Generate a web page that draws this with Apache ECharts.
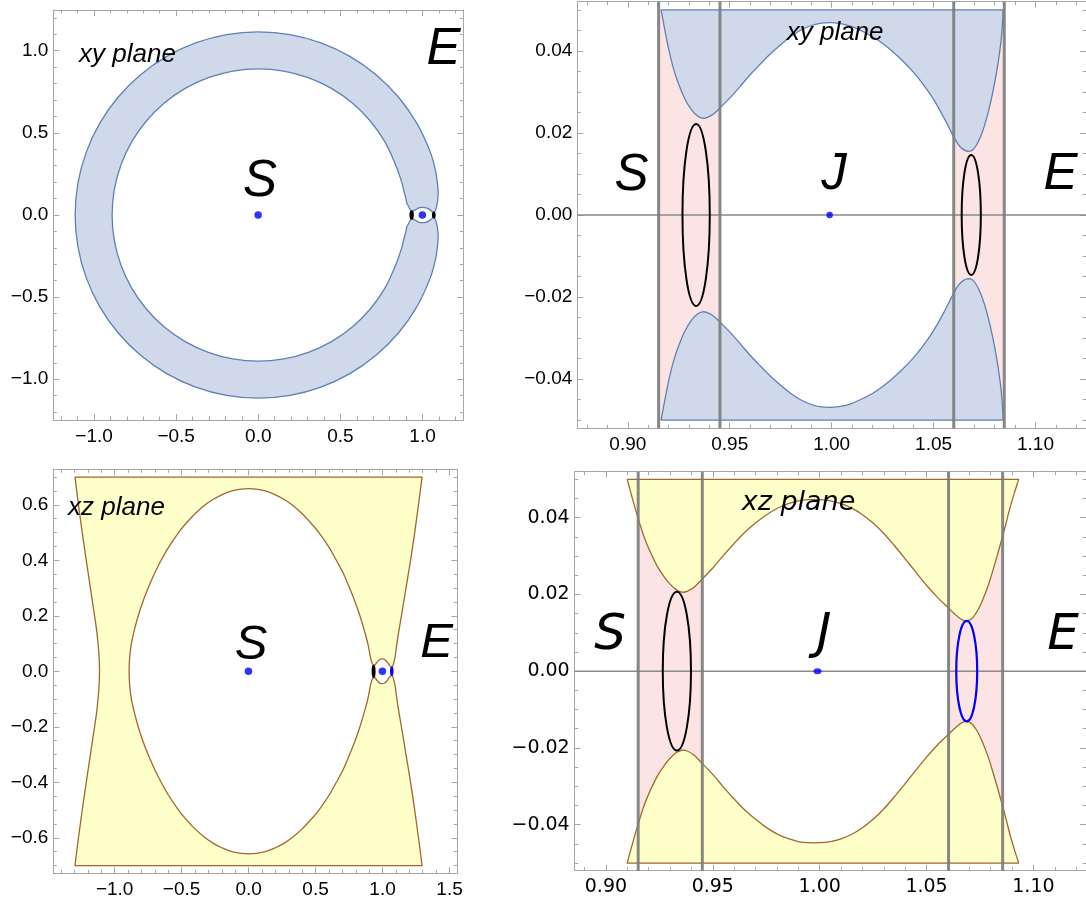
<!DOCTYPE html>
<html><head><meta charset="utf-8">
<script src="https://cdn.jsdelivr.net/npm/echarts@6/dist/echarts.min.js"></script>
<style>html,body{margin:0;padding:0;background:#fff;overflow:hidden}#c{width:1086px;height:905px}</style>
</head><body><div id="c"></div>
<script>
// ---------------- DATA ----------------
// Top-left, xy plane: forbidden band (outer curve, eye, inner curve)
const tlOuter = [[1.067,0.0155],[1.0707,0.0167],[1.0748,0.0216],[1.0789,0.0297],[1.0821,0.0403],[1.0841,0.05],[1.088,0.065],[1.092,0.09],[1.095,0.13],[1.093,0.17],[1.087,0.22],[1.079,0.27],[1.0478,0.3813],[0.9656,0.5575],[0.8541,0.7167],[0.7167,0.8541],[0.5575,0.9656],[0.3813,1.0478],[0.1936,1.0981],[0,1.115],[-0.1936,1.0981],[-0.3813,1.0478],[-0.5575,0.9656],[-0.7167,0.8541],[-0.8541,0.7167],[-0.9656,0.5575],[-1.0478,0.3813],[-1.0981,0.1936],[-1.115,0],[-1.0981,-0.1936],[-1.0478,-0.3813],[-0.9656,-0.5575],[-0.8541,-0.7167],[-0.7167,-0.8541],[-0.5575,-0.9656],[-0.3813,-1.0478],[-0.1936,-1.0981],[0,-1.115],[0.1936,-1.0981],[0.3813,-1.0478],[0.5575,-0.9656],[0.7167,-0.8541],[0.8541,-0.7167],[0.9656,-0.5575],[1.0478,-0.3813],[1.079,-0.27],[1.087,-0.22],[1.093,-0.17],[1.095,-0.13],[1.092,-0.09],[1.088,-0.065],[1.0841,-0.05],[1.0821,-0.0403],[1.0789,-0.0297],[1.0748,-0.0216],[1.0707,-0.0167],[1.067,-0.0155]];
const tlEyeBottom = [[1.067,-0.0155],[1.0599,-0.0193],[1.0472,-0.0297],[1.0358,-0.0371],[1.0228,-0.0428],[0.9992,-0.0469],[0.9805,-0.0444],[0.9675,-0.0379],[0.9561,-0.0318],[0.9452,-0.0262],[0.9366,-0.0236]];
const tlInner = [[0.9366,-0.0236],[0.9301,-0.0265],[0.9252,-0.0322],[0.9203,-0.0403],[0.9163,-0.05],[0.905,-0.07],[0.8985,-0.1],[0.8853,-0.15],[0.873,-0.2],[0.8363,-0.3044],[0.7707,-0.445],[0.6817,-0.5721],[0.5721,-0.6817],[0.445,-0.7707],[0.3044,-0.8363],[0.1545,-0.8765],[0,-0.89],[-0.1545,-0.8765],[-0.3044,-0.8363],[-0.445,-0.7707],[-0.5721,-0.6817],[-0.6817,-0.5721],[-0.7707,-0.445],[-0.8363,-0.3044],[-0.8765,-0.1545],[-0.89,0],[-0.8765,0.1545],[-0.8363,0.3044],[-0.7707,0.445],[-0.6817,0.5721],[-0.5721,0.6817],[-0.445,0.7707],[-0.3044,0.8363],[-0.1545,0.8765],[0,0.89],[0.1545,0.8765],[0.3044,0.8363],[0.445,0.7707],[0.5721,0.6817],[0.6817,0.5721],[0.7707,0.445],[0.8363,0.3044],[0.873,0.2],[0.8853,0.15],[0.8985,0.1],[0.905,0.07],[0.9163,0.05],[0.9203,0.0403],[0.9252,0.0322],[0.9301,0.0265],[0.9366,0.0236]];
const tlEyeTop = [[0.9366,0.0236],[0.9452,0.0262],[0.9561,0.0318],[0.9675,0.0379],[0.9805,0.0444],[0.9992,0.0469],[1.0228,0.0428],[1.0358,0.0371],[1.0472,0.0297],[1.0599,0.0193],[1.067,0.0155]];

// Top-right, xy plane zoom: upper and lower forbidden regions
const trUpper = [[0.9163,0.05],[0.918,0.0455],[0.92,0.0405],[0.9225,0.0355],[0.925,0.0318],[0.928,0.0283],[0.931,0.0258],[0.934,0.0242],[0.9366,0.0236],[0.939,0.0238],[0.942,0.0246],[0.945,0.026],[0.95,0.0285],[0.955,0.0313],[0.96,0.0342],[0.965,0.0368],[0.97,0.0393],[0.975,0.0415],[0.98,0.0435],[0.985,0.0451],[0.99,0.0462],[0.995,0.0468],[1.0,0.0469],[1.005,0.0466],[1.01,0.0459],[1.015,0.0448],[1.02,0.0435],[1.025,0.0418],[1.03,0.0398],[1.035,0.0375],[1.04,0.0349],[1.045,0.0318],[1.05,0.0282],[1.055,0.0238],[1.059,0.0199],[1.062,0.0173],[1.0645,0.016],[1.067,0.0155],[1.069,0.0158],[1.071,0.017],[1.073,0.019],[1.075,0.0218],[1.077,0.0254],[1.079,0.0298],[1.081,0.035],[1.0825,0.04],[1.0835,0.0445],[1.0841,0.05]];
const trLower = [[0.9163,-0.05],[0.918,-0.0455],[0.92,-0.0405],[0.9225,-0.0355],[0.925,-0.0318],[0.928,-0.0283],[0.931,-0.0258],[0.934,-0.0242],[0.9366,-0.0236],[0.939,-0.0238],[0.942,-0.0246],[0.945,-0.026],[0.95,-0.0285],[0.955,-0.0313],[0.96,-0.0342],[0.965,-0.0368],[0.97,-0.0393],[0.975,-0.0415],[0.98,-0.0435],[0.985,-0.0451],[0.99,-0.0462],[0.995,-0.0468],[1.0,-0.0469],[1.005,-0.0466],[1.01,-0.0459],[1.015,-0.0448],[1.02,-0.0435],[1.025,-0.0418],[1.03,-0.0398],[1.035,-0.0375],[1.04,-0.0349],[1.045,-0.0318],[1.05,-0.0282],[1.055,-0.0238],[1.059,-0.0199],[1.062,-0.0173],[1.0645,-0.016],[1.067,-0.0155],[1.069,-0.0158],[1.071,-0.017],[1.073,-0.019],[1.075,-0.0218],[1.077,-0.0254],[1.079,-0.0298],[1.081,-0.035],[1.0825,-0.04],[1.0835,-0.0445],[1.0841,-0.05]];
const trLines = [0.9151, 0.9452, 1.0599, 1.0847];
const trBand = [-0.05, 0.05];

// Bottom-left, xz plane
const blRight = [[1.295,0.7],[1.268,0.6],[1.24,0.5],[1.209,0.4],[1.175,0.3],[1.141,0.2],[1.123,0.15],[1.107,0.1],[1.1,0.075],[1.0931,0.05],[1.0892,0.0429],[1.0856,0.035],[1.0807,0.0255],[1.0745,0.0168],[1.0684,0.0131]];
const blEyeTop = [[1.0684,0.0131],[1.0603,0.0168],[1.0467,0.0246],[1.0313,0.035],[1.0158,0.0424],[0.999,0.0447],[0.9803,0.0424],[0.9679,0.0377],[0.9556,0.0307],[0.9451,0.0242],[0.9401,0.0216],[0.9355,0.0205]];
const blOval = [[0.9355,0.0205],[0.9278,0.0242],[0.9216,0.0307],[0.9151,0.0398],[0.91,0.05],[0.89,0.1],[0.862,0.15],[0.831,0.2],[0.795,0.25],[0.754,0.3],[0.705,0.355],[0.655,0.4],[0.603,0.445],[0.525,0.5],[0.46,0.537],[0.4,0.568],[0.324,0.6],[0.26,0.621],[0.2,0.636],[0.125,0.65],[0,0.658],[-0.125,0.65],[-0.2,0.636],[-0.26,0.621],[-0.324,0.6],[-0.4,0.568],[-0.46,0.537],[-0.523,0.5],[-0.6,0.445],[-0.653,0.4],[-0.7,0.355],[-0.75,0.3],[-0.79,0.25],[-0.824,0.2],[-0.852,0.15],[-0.875,0.1],[-0.888,0.05],[-0.892,0],[-0.888,-0.05],[-0.875,-0.1],[-0.852,-0.15],[-0.824,-0.2],[-0.79,-0.25],[-0.75,-0.3],[-0.7,-0.355],[-0.653,-0.4],[-0.6,-0.445],[-0.523,-0.5],[-0.46,-0.537],[-0.4,-0.568],[-0.324,-0.6],[-0.26,-0.621],[-0.2,-0.636],[-0.125,-0.65],[0,-0.658],[0.125,-0.65],[0.2,-0.636],[0.26,-0.621],[0.324,-0.6],[0.4,-0.568],[0.46,-0.537],[0.525,-0.5],[0.603,-0.445],[0.655,-0.4],[0.705,-0.355],[0.754,-0.3],[0.795,-0.25],[0.831,-0.2],[0.862,-0.15],[0.89,-0.1],[0.91,-0.05],[0.9151,-0.0398],[0.9216,-0.0307],[0.9278,-0.0242],[0.9355,-0.0205]];
const blEyeBottom = [[0.9355,-0.0205],[0.9401,-0.0216],[0.9451,-0.0242],[0.9556,-0.0307],[0.9679,-0.0377],[0.9803,-0.0424],[0.999,-0.0447],[1.0158,-0.0424],[1.0313,-0.035],[1.0467,-0.0246],[1.0603,-0.0168],[1.0684,-0.0131]];
const blRightLower = [[1.0684,-0.0131],[1.0745,-0.0168],[1.0807,-0.0255],[1.0856,-0.035],[1.0892,-0.0429],[1.0931,-0.05],[1.1,-0.075],[1.107,-0.1],[1.123,-0.15],[1.141,-0.2],[1.175,-0.3],[1.209,-0.4],[1.24,-0.5],[1.268,-0.6],[1.295,-0.7]];
const blLeft = [[-1.296,-0.7],[-1.27,-0.6],[-1.242,-0.5],[-1.212,-0.4],[-1.181,-0.3],[-1.15,-0.2],[-1.135,-0.15],[-1.124,-0.1],[-1.116,-0.05],[-1.113,0],[-1.116,0.05],[-1.124,0.1],[-1.135,0.15],[-1.15,0.2],[-1.181,0.3],[-1.212,0.4],[-1.242,0.5],[-1.27,0.6],[-1.296,0.7]];

// Bottom-right, xz plane zoom
const brUpper = [[0.91,0.05],[0.9125,0.0448],[0.915,0.04],[0.918,0.0348],[0.921,0.0308],[0.924,0.0274],[0.927,0.0248],[0.93,0.0227],[0.933,0.0212],[0.9355,0.0206],[0.938,0.0208],[0.941,0.0218],[0.945,0.024],[0.95,0.0269],[0.955,0.0302],[0.96,0.0333],[0.965,0.0362],[0.97,0.0386],[0.975,0.0407],[0.98,0.0424],[0.985,0.0436],[0.99,0.0444],[0.995,0.0447],[1.0,0.0447],[1.005,0.0444],[1.01,0.0437],[1.015,0.0425],[1.02,0.0408],[1.025,0.0386],[1.03,0.0359],[1.035,0.0327],[1.04,0.0293],[1.045,0.0258],[1.05,0.0224],[1.055,0.0193],[1.06,0.0166],[1.063,0.015],[1.066,0.0136],[1.0684,0.0131],[1.071,0.0136],[1.073,0.015],[1.075,0.017],[1.077,0.0196],[1.079,0.0226],[1.081,0.0262],[1.083,0.03],[1.085,0.034],[1.087,0.0381],[1.089,0.0425],[1.091,0.0463],[1.0931,0.05]];
const brLower = [[0.91,-0.05],[0.9125,-0.0448],[0.915,-0.04],[0.918,-0.0348],[0.921,-0.0308],[0.924,-0.0274],[0.927,-0.0248],[0.93,-0.0227],[0.933,-0.0212],[0.9355,-0.0206],[0.938,-0.0208],[0.941,-0.0218],[0.945,-0.024],[0.95,-0.0269],[0.955,-0.0302],[0.96,-0.0333],[0.965,-0.0362],[0.97,-0.0386],[0.975,-0.0407],[0.98,-0.0424],[0.985,-0.0436],[0.99,-0.0444],[0.995,-0.0447],[1.0,-0.0447],[1.005,-0.0444],[1.01,-0.0437],[1.015,-0.0425],[1.02,-0.0408],[1.025,-0.0386],[1.03,-0.0359],[1.035,-0.0327],[1.04,-0.0293],[1.045,-0.0258],[1.05,-0.0224],[1.055,-0.0193],[1.06,-0.0166],[1.063,-0.015],[1.066,-0.0136],[1.0684,-0.0131],[1.071,-0.0136],[1.073,-0.015],[1.075,-0.017],[1.077,-0.0196],[1.079,-0.0226],[1.081,-0.0262],[1.083,-0.03],[1.085,-0.034],[1.087,-0.0381],[1.089,-0.0425],[1.091,-0.0463],[1.0931,-0.05]];
const brLines = [0.9151, 0.9451, 1.0603, 1.0856];
const brBand = [-0.05, 0.05];

// Small ellipses at L1 / L2: [cx, cy, rx, ry]
const xyL1 = [0.9335, 0, 0.0067, 0.0222];
const xyL2 = [1.0685, 0, 0.0047, 0.0146];
const xzL1 = [0.9332, 0, 0.0066, 0.0207];
const xzL2 = [1.0688, 0, 0.0049, 0.0131];

// Bodies
const tlBodies = [[-0.001,0],[0.999,0]];
const trBodies = [[0.999,0]];
const blBodies = [[-0.001,0],[0.999,0]];
const brBodies = [[0.999,0]];

// Tick values
const tlXTicks = [-1.0,-0.5,0.0,0.5,1.0];
const tlYTicks = [-1.0,-0.5,0.0,0.5,1.0];
const trXTicks = [0.90,0.95,1.00,1.05,1.10];
const trYTicks = [-0.04,-0.02,0.00,0.02,0.04];
const blXTicks = [-1.0,-0.5,0.0,0.5,1.0,1.5];
const blYTicks = [-0.6,-0.4,-0.2,0.0,0.2,0.4,0.6];
const brXTicks = [0.90,0.95,1.00,1.05,1.10];
const brYTicks = [-0.04,-0.02,0.00,0.02,0.04];

// ---------------- LAYOUT / STYLE ----------------
const BLUE_FILL = '#cfd9e9', BLUE_LINE = '#5e81b5';
const YEL_FILL = '#ffffc9', YEL_LINE = '#a0672f';
const PINK = '#fde4e4';
const FRAME = '#a6a6a6';

const panels = [
  {grid:{left:53.3, top:10, width:410, height:410}, x:[-1.248,1.248], y:[-1.248,1.248], xt:tlXTicks, yt:tlYTicks, xd:1, yd:1, xm:0.1, ym:0.1, font:'Liberation Sans', fs:19, xMargin:7, yMargin:5},
  {grid:{left:577.3, top:1.7, width:511.7, height:426.6}, x:[0.8752,1.1248], y:[-0.052,0.052], xt:trXTicks, yt:trYTicks, xd:2, yd:2, xm:0.01, ym:0.005, font:'Liberation Sans', fs:19, xMargin:7, yMargin:5},
  {grid:{left:53.3, top:469.3, width:404, height:404}, x:[-1.458,1.558], y:[-0.728,0.728], xt:blXTicks, yt:blYTicks, xd:1, yd:1, xm:0.1, ym:0.05, font:'Liberation Sans', fs:19, xMargin:7, yMargin:5},
  {grid:{left:574.7, top:471.7, width:516.2, height:399}, x:[0.8854,1.1246], y:[-0.052,0.052], xt:brXTicks, yt:brYTicks, xd:2, yd:2, xm:0.01, ym:0.005, font:'DejaVu Sans', fs:19, xMargin:7, yMargin:5}
];

function fmt(d){ return v => (v < -1e-9 ? '\u2212' : '') + Math.abs(v).toFixed(d); }
function minors(range, step, majors){
  const out = [];
  const start = Math.ceil(range[0]/step - 1e-9);
  for (let k = start; k*step <= range[1] + 1e-12; k++){
    const v = +(k*step).toFixed(6);
    if (!majors.some(m => Math.abs(m - v) < step*1e-3)) out.push(v);
  }
  return out;
}
function joinPaths(){
  const out = [];
  for (const arr of arguments){
    arr.forEach(p => {
      const last = out[out.length-1];
      if (!last || last[0] !== p[0] || last[1] !== p[1]) out.push(p);
    });
  }
  const f = out[0], l = out[out.length-1];
  if (out.length > 1 && f[0] === l[0] && f[1] === l[1]) out.pop();
  return out;
}

const grid = [], xAxis = [], yAxis = [];
panels.forEach((p, g) => {
  grid.push(Object.assign({containLabel:false}, p.grid));
  const lineS = {show:true, onZero:false, lineStyle:{color:FRAME, width:1}};
  const xMin = minors(p.x, p.xm, p.xt), yMin = minors(p.y, p.ym, p.yt);
  const base = (range) => ({type:'value', gridIndex:g, min:range[0], max:range[1], splitLine:{show:false}, axisPointer:{show:false}});
  xAxis.push(Object.assign(base(p.x), {position:'bottom', axisLine:lineS,
    axisTick:{show:true, inside:true, length:6, customValues:p.xt, lineStyle:{color:FRAME}},
    axisLabel:{show:true, customValues:p.xt, formatter:fmt(p.xd), color:'#000', fontSize:p.fs, fontFamily:p.font, margin:p.xMargin}}));
  xAxis.push(Object.assign(base(p.x), {position:'bottom', axisLine:{show:false, onZero:false},
    axisTick:{show:true, inside:true, length:3.5, customValues:xMin, lineStyle:{color:FRAME}}, axisLabel:{show:false}}));
  xAxis.push(Object.assign(base(p.x), {position:'top', axisLine:lineS,
    axisTick:{show:true, inside:true, length:6, customValues:p.xt, lineStyle:{color:FRAME}}, axisLabel:{show:false}}));
  xAxis.push(Object.assign(base(p.x), {position:'top', axisLine:{show:false, onZero:false},
    axisTick:{show:true, inside:true, length:3.5, customValues:xMin, lineStyle:{color:FRAME}}, axisLabel:{show:false}}));
  yAxis.push(Object.assign(base(p.y), {position:'left', axisLine:lineS,
    axisTick:{show:true, inside:true, length:6, customValues:p.yt, lineStyle:{color:FRAME}},
    axisLabel:{show:true, customValues:p.yt, formatter:fmt(p.yd), color:'#000', fontSize:p.fs, fontFamily:p.font, margin:p.yMargin}}));
  yAxis.push(Object.assign(base(p.y), {position:'left', axisLine:{show:false, onZero:false},
    axisTick:{show:true, inside:true, length:3.5, customValues:yMin, lineStyle:{color:FRAME}}, axisLabel:{show:false}}));
  yAxis.push(Object.assign(base(p.y), {position:'right', axisLine:lineS,
    axisTick:{show:true, inside:true, length:6, customValues:p.yt, lineStyle:{color:FRAME}}, axisLabel:{show:false}}));
  yAxis.push(Object.assign(base(p.y), {position:'right', axisLine:{show:false, onZero:false},
    axisTick:{show:true, inside:true, length:3.5, customValues:yMin, lineStyle:{color:FRAME}}, axisLabel:{show:false}}));
});

const series = [];
function custom(g, z, render){
  series.push({type:'custom', coordinateSystem:'cartesian2d', xAxisIndex:4*g, yAxisIndex:4*g,
    data:[[0,0]], silent:true, z:z, animation:false, renderItem:(params, api) => render(api)});
}
function poly(g, pts, fill, stroke, lw, sm){
  custom(g, 3, api => {
    const px = pts.map(pt => api.coord(pt));
    return {type:'polygon', shape:{points:px, smooth:sm, smoothConstraint:[px[0], px[0]]},
      style:{fill:fill, stroke:stroke, lineWidth:lw, lineJoin:'round'}};
  });
}
function strips(g, lines, band){
  [[lines[0],lines[1]],[lines[2],lines[3]]].forEach(pr => {
    custom(g, 2, api => {
      const a = api.coord([pr[0], band[1]]), b = api.coord([pr[1], band[0]]);
      return {type:'rect', shape:{x:a[0], y:a[1], width:b[0]-a[0], height:b[1]-a[1]}, style:{fill:PINK}};
    });
  });
}
function vlines(g, lines, yr){
  lines.forEach(v => custom(g, 6, api => {
    const a = api.coord([v, yr[0]]), b = api.coord([v, yr[1]]);
    return {type:'line', shape:{x1:a[0], y1:a[1], x2:b[0], y2:b[1]}, style:{stroke:'#7b7b7b', lineWidth:3, opacity:0.9}};
  }));
}
function hline(g, xr){
  custom(g, 5, api => {
    const a = api.coord([xr[0], 0]), b = api.coord([xr[1], 0]);
    return {type:'line', shape:{x1:a[0], y1:a[1], x2:b[0], y2:b[1]}, style:{stroke:'#8a8a8a', lineWidth:1.4}};
  });
}
function ell(g, e, color, lw){
  custom(g, 7, api => {
    const c = api.coord([e[0], e[1]]);
    const s = api.size([e[2], e[3]], [e[0], e[1]]);
    return {type:'ellipse', shape:{cx:c[0], cy:c[1], rx:s[0], ry:s[1]}, style:{fill:null, stroke:color, lineWidth:lw}};
  });
}
function dots(g, pts, size){
  series.push({type:'scatter', xAxisIndex:4*g, yAxisIndex:4*g, data:pts, symbol:'circle', symbolSize:size,
    itemStyle:{color:'#0000ff'}, z:8, silent:true, animation:false});
}

// Panel 0: top-left
poly(0, joinPaths(tlOuter, tlEyeBottom, tlInner, tlEyeTop), BLUE_FILL, BLUE_LINE, 1.3, 0.35);
ell(0, xyL1, '#000', 2.2); ell(0, xyL2, '#000', 2.2);
dots(0, tlBodies, 7.5);

// Panel 1: top-right
strips(1, trLines, trBand);
poly(1, trUpper, BLUE_FILL, BLUE_LINE, 1.3, 0.3);
poly(1, trLower, BLUE_FILL, BLUE_LINE, 1.3, 0.3);
hline(1, panels[1].x);
vlines(1, trLines, panels[1].y);
ell(1, xyL1, '#000', 2); ell(1, xyL2, '#000', 2);
dots(1, trBodies, 6.5);

// Panel 2: bottom-left
poly(2, joinPaths(blRight, blEyeTop, blOval, blEyeBottom, blRightLower, blLeft), YEL_FILL, YEL_LINE, 1.3, 0.3);
ell(2, xzL1, '#000', 2.2); ell(2, xzL2, '#0000ff', 2.2);
dots(2, blBodies, 7.5);

// Panel 3: bottom-right
strips(3, brLines, brBand);
poly(3, brUpper, YEL_FILL, YEL_LINE, 1.3, 0.3);
poly(3, brLower, YEL_FILL, YEL_LINE, 1.3, 0.3);
hline(3, panels[3].x);
vlines(3, brLines, panels[3].y);
ell(3, xzL1, '#000', 2); ell(3, xzL2, '#0000ff', 2.2);
dots(3, brBodies, [8,6]);

// Text labels
function txt(x, y, s, size, family, align){
  return {type:'text', x:x, y:y, z:100, silent:true,
    style:{text:s, font:'italic ' + size + 'px "' + family + '"', fill:'#000',
      textAlign:align||'center', textVerticalAlign:'middle', align:align||'center', verticalAlign:'middle'}};
}
const graphic = [
  txt(79, 55, 'xy plane', 26, 'Liberation Sans', 'left'),
  txt(260, 182, 'S', 51, 'Liberation Sans'),
  txt(443.5, 50, 'E', 51, 'Liberation Sans'),
  txt(786.7, 33, 'xy plane', 26, 'Liberation Sans', 'left'),
  txt(631.5, 176, 'S', 51, 'Liberation Sans'),
  txt(834, 175, 'J', 51, 'Liberation Sans'),
  txt(1060.5, 175, 'E', 51, 'Liberation Sans'),
  txt(68, 508, 'xz plane', 26, 'Liberation Sans', 'left'),
  txt(251, 645, 'S', 49, 'Liberation Sans'),
  txt(436.7, 643, 'E', 49, 'Liberation Sans'),
  txt(741.7, 503, 'xz plane', 27, 'DejaVu Sans', 'left'),
  txt(610, 636, 'S', 50, 'DejaVu Sans'),
  txt(824, 635, 'J', 50, 'DejaVu Sans'),
  txt(1063, 636, 'E', 50, 'DejaVu Sans')
];

const chart = echarts.init(document.getElementById('c'), null, {renderer:'canvas'});
chart.setOption({animation:false, backgroundColor:'#fff', grid:grid, xAxis:xAxis, yAxis:yAxis, series:series, graphic:graphic});
</script></body></html>
